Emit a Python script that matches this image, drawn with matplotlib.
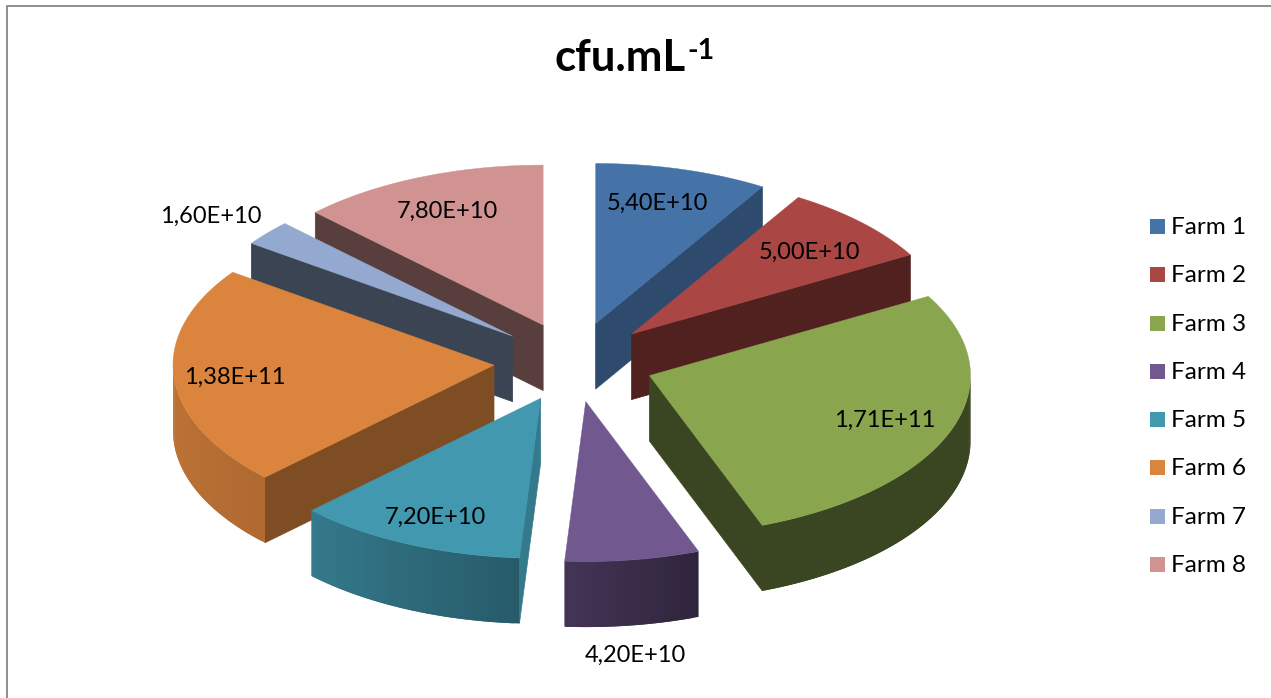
import numpy as np
import matplotlib
matplotlib.use('Agg')
import matplotlib.pyplot as plt
from matplotlib.patches import Polygon, Rectangle

# data
farms = ['Farm 1', 'Farm 2', 'Farm 3', 'Farm 4', 'Farm 5', 'Farm 6', 'Farm 7', 'Farm 8']
values = [5.4e10, 5.0e10, 1.71e11, 4.2e10, 7.2e10, 1.38e11, 1.6e10, 7.8e10]
value_labels = ['5,40E+10', '5,00E+10', '1,71E+11', '4,20E+10',
                '7,20E+10', '1,38E+11', '1,60E+10', '7,80E+10']

# styles
colors = ['#4572A7', '#AA4643', '#89A54E', '#71588F', '#4198AF', '#DB843D', '#93A9CF', '#D19392']
wall_shade = [0.66, 0.47, 0.42, 0.45, 0.80, 0.58, 0.40, 0.42]
label_pos = [(657, 203), (809, 252), (885, 420), (635, 655),
             (435, 517), (235, 377), (211, 216), (447, 211)]

# pie geometry in pixels
cx, cy = 574, 362
rx, ry = 321, 160
depth = 65.5
explode = 0.25


def shade(color, f):
    return tuple(c * f for c in matplotlib.colors.to_rgb(color))


def rim_shade(deg):
    return np.interp(deg, [90, 160, 184, 225, 270], [0.42, 0.42, 0.60, 0.80, 0.88])


def point(ax0, ay0, deg):
    a = np.radians(deg)
    return ax0 + rx * np.sin(a), ay0 - ry * np.cos(a)


fig = plt.figure(figsize=(12.71, 6.98), dpi=100)
ax = fig.add_axes([0, 0, 1, 1])
ax.set_xlim(0, 1271)
ax.set_ylim(698, 0)
ax.axis('off')
plt.rcParams['font.family'] = ['Lato', 'DejaVu Sans']

# frame of the chart
ax.plot([1271, 6.5, 6.5], [5.5, 5.5, 698], color='#868686', lw=1.3, zorder=1)

edges = 360 * np.cumsum([0] + values) / sum(values)
mids = (edges[:-1] + edges[1:]) / 2

# back slices first
order = np.argsort(-np.cos(np.radians(mids)))
z = 2
for i in order:
    start, end = edges[i], edges[i + 1]
    mid = np.radians(mids[i])
    ax0 = cx + explode * rx * np.sin(mid)
    ay0 = cy - explode * ry * np.cos(mid)
    wall = shade(colors[i], wall_shade[i])

    # cut faces that look at the viewer
    for deg, visible in [(start, np.sin(np.radians(start)) < -1e-6),
                         (end, np.sin(np.radians(end)) > 1e-6)]:
        if visible:
            px, py = point(ax0, ay0, deg)
            ax.add_patch(Polygon([(ax0, ay0), (px, py), (px, py + depth), (ax0, ay0 + depth)],
                                 closed=True, fc=wall, ec=wall, lw=0.5, zorder=z))
            z += 1

    # outer rim, front part only. strips overlap so no seams show
    lo, hi = max(start, 90), min(end, 270)
    if hi > lo:
        steps = np.linspace(lo, hi, int(hi - lo) + 2)
        for k in range(len(steps) - 1):
            d0 = steps[k]
            d1 = steps[min(k + 2, len(steps) - 1)]
            arc = np.linspace(d0, d1, 4)
            xs, ys = point(ax0, ay0, arc)
            outline = np.column_stack([np.r_[xs, xs[::-1]], np.r_[ys, ys[::-1] + depth]])
            c = shade(colors[i], rim_shade((steps[k] + steps[k + 1]) / 2))
            ax.add_patch(Polygon(outline, closed=True, fc=c, ec='none', zorder=z))
            z += 0.001
        z += 1

    # top face
    arc = np.linspace(start, end, int(end - start) * 2 + 2)
    xs, ys = point(ax0, ay0, arc)
    ax.add_patch(Polygon(np.column_stack([np.r_[ax0, xs], np.r_[ay0, ys]]), closed=True,
                         fc=colors[i], ec=colors[i], lw=0.3, zorder=z))
    z += 1

for text, (x, y) in zip(value_labels, label_pos):
    ax.text(x, y, text, ha='center', va='center', fontsize=17, color='black', zorder=100)

# title with superscript
ax.text(555, 58, 'cfu.mL', ha='left', va='center', fontsize=31.5, fontweight='bold', color='black')
ax.text(687, 51, '-1', ha='left', va='center', fontsize=20.5, fontweight='bold', color='black')

# legend
legend_y = np.linspace(226.5, 564.5, len(farms))
for name, color, y in zip(farms, colors, legend_y):
    ax.add_patch(Rectangle((1150, y - 7.5), 15, 15, fc=color, ec='none', zorder=50))
    ax.text(1171, y + 1, name, ha='left', va='center', fontsize=17.5, color='black')

fig.savefig('out.png', dpi=100)
